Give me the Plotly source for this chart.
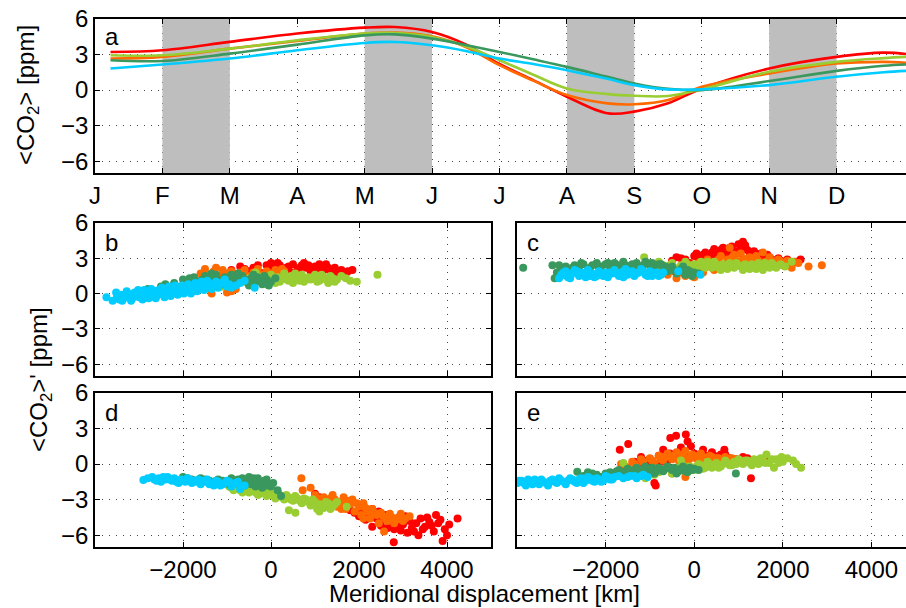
import plotly.graph_objects as go

W, H = 906, 608

# ---------------- data ----------------
month_labels = ["J", "F", "M", "A", "M", "J", "J", "A", "S", "O", "N", "D"]
month_x = [0.23, 1, 2, 3, 4, 4.45, 5, 5.5, 6, 6.5, 7, 7.6, 8, 8.5, 9, 10, 11, 11.7, 12.03]

a_red = [3.22, 3.36, 4.07, 4.77, 5.27, 5.32, 4.9, 3.85, 2.2, 0.84, -0.56, -1.96, -1.82, -1.12, 0.14, 1.82, 2.8, 3.16, 3.05]
a_orange = [2.66, 2.8, 3.5, 4.14, 4.77, 4.85, 4.54, 3.64, 2.1, 0.8, -0.42, -1.12, -1.2, -0.84, 0.28, 1.4, 2.24, 2.38, 2.3]
a_ygreen = [2.94, 2.94, 3.5, 4.2, 4.77, 4.82, 4.48, 3.7, 2.52, 1.3, 0.14, -0.34, -0.48, -0.5, 0.06, 1.54, 2.38, 2.7, 2.8]
a_dgreen = [2.52, 2.46, 3.08, 3.84, 4.62, 4.7, 4.34, 3.8, 3.22, 2.6, 1.96, 1.12, 0.56, 0.1, 0.0, 0.76, 1.62, 2.05, 2.16]
a_cyan = [1.82, 2.16, 2.66, 3.36, 3.98, 4.06, 3.78, 3.3, 2.66, 2.2, 1.68, 0.95, 0.42, 0.06, 0.06, 0.42, 1.12, 1.5, 1.62]

shaded_months = [(1, 2), (4, 5), (7, 8), (10, 11)]

# panel b (km, ppm)
b_red = [(-1100, 1.8), (-900, 2.0), (-700, 2.3), (-500, 1.9), (-400, 2.2), (-250, 1.8), (-100, 2.4), (0, 2.6), (100, 2.1),
         (200, 2.4), (300, 1.9), (400, 2.3), (500, 2.5), (600, 2.0), (700, 2.4), (800, 2.2), (900, 1.9), (1000, 2.3),
         (1100, 2.5), (1200, 2.0), (1300, 2.2), (1400, 1.7), (1500, 1.9), (1600, 2.0), (1700, 1.7), (1850, 2.0),
         (-950, 1.6), (-600, 2.1), (-300, 2.4), (-50, 2.1), (150, 2.6), (350, 2.2), (450, 1.8), (650, 2.2), (750, 2.6),
         (850, 2.4), (1050, 2.1), (1150, 2.3), (1250, 2.5), (1350, 1.9), (1450, 2.2), (1550, 1.7), (1750, 1.9)]
b_orange = [(-1500, 2.1), (-1400, 1.6), (-1300, 1.9), (-1200, 1.5), (-1100, 2.0), (-1000, 1.7), (-900, 1.9), (-800, 1.4),
            (-700, 1.8), (-600, 2.0), (-500, 1.5), (-400, 1.8), (-300, 2.1), (-200, 1.6), (-100, 1.9), (0, 1.7),
            (100, 2.0), (200, 1.6), (300, 1.9), (-1350, 0.0), (-1000, 0.1), (-800, 0.4),
            (-1600, 1.7), (-1250, 2.2), (-950, 1.4), (-650, 1.6), (-350, 1.4), (-50, 1.5), (150, 1.8), (250, 2.1),
            (-1150, 0.6), (-900, 0.2)]
b_ygreen = [(-1600, 0.5), (-1400, 0.9), (-1200, 0.7), (-1000, 1.2), (-900, 0.8), (-800, 1.4), (-600, 1.0), (-500, 1.3),
            (-400, 0.9), (-300, 1.5), (-200, 1.1), (-100, 0.8), (0, 1.6), (50, 1.2), (150, 1.4), (200, 1.0), (300, 1.7),
            (350, 1.2), (450, 1.5), (500, 0.9), (600, 1.3), (700, 1.6), (750, 1.0), (850, 1.4), (900, 1.2), (1000, 1.6),
            (1100, 1.1), (1200, 1.4), (1300, 0.9), (1400, 1.3), (1500, 1.2), (1600, 1.5), (1950, 1.0), (2420, 1.6),
            (-1500, 1.1), (-1100, 0.6), (-700, 1.2), (-350, 1.8), (-150, 1.4), (100, 0.9), (250, 1.3), (400, 1.1),
            (550, 1.7), (650, 1.1), (800, 1.2), (950, 1.4), (1050, 1.0), (1150, 1.6), (1250, 1.2), (1350, 1.5),
            (1450, 1.0), (1700, 1.3), (1800, 1.1)]
b_dgreen = [(-3000, 0.1), (-2800, 0.4), (-2600, 0.2), (-2500, 0.6), (-2300, 0.5), (-2200, 0.9), (-2100, 0.3), (-2000, 1.2),
            (-1900, 0.7), (-1800, 1.0), (-1750, 1.4), (-1700, 0.5), (-1600, 1.1), (-1500, 1.5), (-1450, 0.9), (-1400, 1.3),
            (-1300, 1.0), (-1250, 1.6), (-1200, 1.2), (-1100, 0.8), (-1050, 1.4), (-1000, 1.1), (-900, 1.6), (-850, 0.9),
            (-800, 1.3), (-700, 1.0), (-650, 1.5), (-600, 1.2), (-500, 0.7), (-450, 1.3), (-350, 1.0), (-300, 1.4),
            (-200, 0.8), (-100, 1.2), (0, 1.0),
            (-2700, 0.0), (-2400, 0.8), (-2150, 0.6), (-1950, 0.4), (-1850, 1.3), (-1650, 0.8), (-1550, 1.2),
            (-1350, 1.7), (-1150, 1.1), (-950, 1.3), (-750, 1.7), (-550, 1.0), (-400, 1.6), (-250, 1.1), (-150, 1.5),
            (-50, 0.7), (100, 1.3)]
b_cyan = [(-3740, -0.3), (-3500, -0.2), (-3450, -0.5), (-3400, -0.1), (-3350, -0.4), (-3300, -0.3), (-3250, 0.0),
          (-3200, -0.2), (-3150, -0.4), (-3100, 0.1), (-3050, -0.1), (-3000, -0.3), (-2950, 0.2), (-2900, 0.0),
          (-2850, -0.2), (-2800, 0.1), (-2750, -0.3), (-2700, 0.2), (-2650, 0.0), (-2600, -0.2), (-2550, 0.3),
          (-2500, 0.1), (-2450, -0.1), (-2400, 0.2), (-2350, 0.4), (-2300, 0.0), (-2250, 0.3), (-2200, 0.1),
          (-2150, 0.5), (-2100, 0.2), (-2050, 0.4), (-2000, 0.1), (-1950, 0.6), (-1900, 0.3), (-1850, 0.5),
          (-1800, 0.2), (-1750, 0.6), (-1700, 0.4), (-1650, 0.8), (-1600, 0.5), (-1550, 0.7), (-1500, 0.4),
          (-1450, 1.1), (-1400, 0.6), (-1300, 0.8), (-1200, 0.5), (-1130, 0.9), (-1000, 0.6), (-900, 0.5),
          (-700, 0.9), (-370, 0.5),
          (-3600, -0.6), (-3520, 0.1), (-3380, -0.6), (-3280, 0.2), (-3180, -0.6), (-3120, -0.1), (-3020, 0.3),
          (-2920, -0.5), (-2880, 0.3), (-2780, -0.4), (-2720, 0.4), (-2620, -0.4), (-2580, 0.2), (-2480, 0.5),
          (-2420, -0.3), (-2320, 0.6), (-2280, -0.2), (-2180, 0.7), (-2120, -0.1), (-2020, 0.7), (-1980, 0.0),
          (-1880, 0.8), (-1820, 0.0), (-1720, 0.9), (-1680, 0.2), (-1580, 1.0), (-1520, 0.3), (-1420, 0.9),
          (-1350, 0.4), (-1250, 1.0), (-1180, 0.7), (-1050, 1.2), (-950, 0.8), (-800, 0.7), (-600, 1.1)]

# panel c
c_red = [(-500, 2.8), (-300, 3.0), (-100, 2.6), (0, 3.2), (100, 2.9), (200, 3.3), (300, 3.0), (400, 3.5), (500, 3.2),
         (600, 3.7), (700, 3.4), (800, 3.9), (900, 3.6), (1000, 4.2), (1050, 3.8), (1100, 4.4), (1200, 3.7), (1300, 3.3),
         (1400, 3.0), (1500, 3.4), (1600, 2.9), (1700, 3.1), (1800, 2.7), (1900, 3.0), (2000, 2.6), (2100, 2.9),
         (2200, 2.6), (2400, 2.9),
         (-400, 3.1), (-200, 2.9), (50, 3.4), (150, 3.1), (250, 3.5), (350, 3.2), (450, 3.8), (550, 3.4), (650, 3.9),
         (750, 3.6), (850, 4.0), (950, 3.4), (1150, 4.1), (1250, 3.5), (1350, 3.6), (1450, 3.2), (1650, 3.3),
         (1750, 2.9), (1950, 2.8), (2300, 2.7)]
c_orange = [(-600, 1.6), (-400, 1.3), (-300, 2.0), (-200, 1.5), (-100, 2.2), (0, 1.4), (100, 2.6), (200, 1.8), (300, 2.9),
            (400, 2.2), (500, 2.7), (600, 3.2), (700, 2.5), (800, 3.9), (900, 3.3), (1000, 2.6), (1100, 3.0), (1200, 2.4),
            (1300, 2.8), (1400, 3.2), (1500, 2.3), (1550, 3.5), (1600, 2.7), (1700, 3.1), (1800, 2.5), (1900, 2.9),
            (2000, 2.4), (2100, 2.8), (2200, 2.2), (2350, 2.6), (2580, 2.3), (2880, 2.4),
            (-500, 1.9), (-250, 1.7), (50, 2.0), (250, 2.4), (450, 2.0), (550, 2.9), (650, 2.4), (750, 2.9), (850, 3.0),
            (950, 2.8), (1050, 3.4), (1150, 2.8), (1250, 3.1), (1350, 2.6), (1450, 2.8), (1650, 2.5), (1750, 2.8),
            (1950, 2.7), (2150, 2.5), (2250, 2.7)]
c_ygreen = [(-1130, 3.1), (-1000, 2.6), (-900, 2.3), (-800, 2.7), (-700, 2.4), (-600, 2.2), (-500, 2.6), (-400, 2.0),
            (-300, 2.4), (-200, 2.7), (-100, 2.2), (0, 2.5), (100, 2.0), (200, 2.4), (300, 2.7), (400, 2.2), (500, 2.5),
            (600, 2.0), (700, 2.3), (800, 2.6), (900, 2.2), (1000, 2.4), (1100, 2.0), (1200, 2.3), (1300, 2.5),
            (1400, 2.1), (1500, 2.3), (1600, 2.6), (1700, 2.2), (1800, 2.4), (1950, 2.5), (2200, 2.7),
            (-950, 2.5), (-750, 2.2), (-550, 2.4), (-350, 2.2), (-150, 2.5), (50, 2.2), (150, 2.7), (250, 2.2),
            (350, 2.4), (450, 2.7), (550, 2.2), (650, 2.5), (750, 2.1), (850, 2.4), (950, 2.6), (1050, 2.3),
            (1150, 2.5), (1250, 2.1), (1350, 2.3), (1450, 2.6), (1550, 2.0), (1650, 2.4), (1750, 2.6), (1850, 2.2),
            (2050, 2.3)]
c_dgreen = [(-3860, 2.2), (-3200, 2.4), (-3150, 1.3), (-3100, 1.8), (-3000, 2.1), (-2900, 2.3), (-2800, 1.9), (-2700, 2.4),
            (-2600, 2.2), (-2500, 2.5), (-2400, 2.0), (-2300, 2.4), (-2200, 2.6), (-2100, 2.3), (-2000, 2.5),
            (-1900, 2.2), (-1800, 2.6), (-1700, 2.4), (-1600, 2.7), (-1500, 2.3), (-1400, 2.5), (-1300, 2.6),
            (-1200, 2.2), (-1100, 2.7), (-1000, 2.4), (-900, 2.0), (-800, 2.5), (-700, 2.2), (-600, 1.9), (-500, 2.3),
            (-400, 1.7), (-300, 2.1), (-200, 1.6), (-100, 1.9), (100, 1.7),
            (-3050, 2.4), (-2950, 1.6), (-2750, 2.2), (-2550, 2.6), (-2350, 2.2), (-2150, 2.2), (-1950, 2.6),
            (-1750, 2.2), (-1550, 2.4), (-1350, 2.3), (-1150, 2.4), (-950, 2.6), (-750, 2.5), (-650, 2.3),
            (-450, 2.0), (-250, 2.3), (-150, 2.0), (0, 1.8), (-50, 1.5)]
c_cyan = [(-3000, 1.6), (-2900, 1.9), (-2850, 1.4), (-2750, 1.7), (-2700, 2.0), (-2600, 1.5), (-2550, 1.8), (-2450, 1.4),
          (-2400, 2.0), (-2300, 1.7), (-2250, 1.4), (-2150, 1.9), (-2100, 1.6), (-2000, 1.8), (-1950, 1.4), (-1850, 1.7),
          (-1800, 2.0), (-1700, 1.5), (-1650, 1.8), (-1550, 2.1), (-1500, 1.6), (-1400, 1.9), (-1350, 1.5),
          (-1250, 1.8), (-1200, 2.1), (-1100, 1.6), (-1000, 1.9), (-950, 1.5), (-850, 1.8), (-750, 1.6), (-360, 1.9),
          (140, 1.6),
          (-3050, 1.3), (-2950, 1.8), (-2800, 1.3), (-2650, 1.9), (-2500, 1.7), (-2350, 1.5), (-2200, 1.5),
          (-2050, 1.5), (-1900, 1.8), (-1750, 1.7), (-1600, 1.4), (-1450, 1.8), (-1300, 1.7), (-1150, 1.9),
          (-1050, 1.5), (-900, 1.7), (-800, 1.5), (-700, 1.8)]

# panel d
d_red = [(1000, -2.5), (1200, -3.2), (1400, -2.9), (1600, -3.5), (1800, -3.9), (2000, -4.4), (2100, -3.5), (2200, -4.2),
         (2300, -3.8), (2300, -5.3), (2400, -4.6), (2500, -5.2), (2600, -4.3), (2700, -4.9), (2790, -6.6), (2800, -5.5),
         (2900, -4.5), (3000, -5.1), (3100, -5.8), (3150, -4.8), (3200, -5.4), (3300, -5.0), (3350, -6.0), (3400, -4.6),
         (3500, -5.3), (3600, -4.9), (3700, -5.7), (3750, -4.3), (3900, -6.5), (3950, -5.5), (4050, -5.1), (4240, -4.6),
         (1100, -2.8), (1500, -3.2), (1700, -3.6), (1900, -4.1), (2050, -3.8), (2150, -4.7), (2450, -4.0),
         (2550, -4.6), (2650, -5.4), (2850, -5.2), (2950, -5.6), (3050, -4.4), (3250, -5.7), (3450, -5.5),
         (3550, -4.5), (3650, -5.2), (3800, -5.0), (3850, -4.7), (4000, -6.0)]
d_orange = [(690, -1.2), (900, -2.0), (720, -2.2), (1000, -2.6), (1200, -2.8), (1300, -3.3), (1400, -2.6), (1450, -3.0),
            (1500, -3.6), (1600, -3.2), (1650, -2.8), (1700, -3.8), (1800, -3.4), (1850, -3.0), (1900, -4.0),
            (2000, -3.6), (2050, -4.3), (2100, -3.3), (2200, -4.0), (2250, -4.6), (2300, -3.8), (2400, -4.3),
            (2450, -5.0), (2500, -4.1), (2570, -5.7), (2600, -4.6), (2700, -4.2), (2800, -5.0), (2900, -4.5),
            (3000, -4.8), (3150, -4.4),
            (1100, -2.9), (1250, -3.1), (1350, -2.9), (1550, -3.4), (1750, -3.1), (1950, -3.3), (2150, -3.7),
            (2350, -4.1), (2550, -4.4), (2650, -4.8), (2750, -4.5), (2850, -4.7), (2950, -4.2), (1600, -3.8),
            (2100, -4.6), (3050, -4.6)]
d_ygreen = [(-1000, -1.7), (-900, -2.0), (-800, -1.8), (-700, -2.2), (-600, -2.0), (-500, -2.4), (-400, -2.2),
            (-300, -2.6), (-200, -2.3), (-100, -2.7), (0, -2.5), (100, -2.9), (200, -2.6), (300, -3.0), (400, -2.8),
            (408, -3.9), (500, -3.1), (555, -4.1), (600, -2.9), (700, -3.3), (800, -3.0), (900, -3.5), (1000, -3.2),
            (1050, -3.8), (1100, -3.4), (1100, -4.0), (1200, -3.7), (1300, -3.3), (1400, -3.6), (1500, -3.2),
            (1720, -3.6),
            (-950, -1.9), (-850, -2.2), (-750, -1.9), (-650, -2.4), (-550, -2.2), (-450, -2.0), (-350, -2.4),
            (-250, -2.5), (-150, -2.1), (-50, -2.4), (50, -2.7), (150, -2.4), (250, -2.8), (350, -2.6), (450, -3.0),
            (550, -2.7), (650, -3.1), (750, -2.9), (850, -3.2), (950, -3.0), (1150, -3.6), (1250, -3.2),
            (1350, -3.8), (1450, -3.4)]
d_dgreen = [(-2000, -1.1), (-1800, -1.3), (-1600, -1.2), (-1400, -1.4), (-1200, -1.3), (-1000, -1.5), (-900, -1.2),
            (-800, -1.6), (-700, -1.4), (-650, -1.2), (-600, -1.8), (-550, -1.5), (-500, -1.1), (-450, -1.7),
            (-400, -1.4), (-350, -1.9), (-300, -1.2), (-250, -1.6), (-200, -2.0), (-150, -1.4), (-100, -1.8),
            (50, -1.6), (150, -2.2), (230, -2.7),
            (-1900, -1.2), (-1700, -1.4), (-1500, -1.3), (-1300, -1.5), (-1100, -1.4), (-950, -1.7), (-750, -1.3),
            (-600, -1.4), (-500, -1.6), (-400, -1.2), (-300, -1.7), (-200, -1.5), (-100, -1.3), (0, -1.9)]
d_cyan = [(-2900, -1.35), (-2700, -1.1), (-2650, -1.3), (-2550, -1.2), (-2500, -1.5), (-2400, -1.3), (-2350, -1.1),
          (-2250, -1.4), (-2200, -1.2), (-2100, -1.6), (-2050, -1.3), (-1950, -1.5), (-1900, -1.2), (-1800, -1.6),
          (-1750, -1.4), (-1650, -1.3), (-1600, -1.7), (-1500, -1.5), (-1450, -1.3), (-1350, -1.6), (-1300, -1.8),
          (-1200, -1.5), (-1100, -1.7), (-1000, -1.4), (-900, -1.9), (-800, -1.6), (-700, -2.1), (-600, -1.8),
          (-2800, -1.2), (-2600, -1.4), (-2450, -1.1), (-2300, -1.3), (-2150, -1.5), (-2000, -1.4), (-1850, -1.3),
          (-1700, -1.5), (-1550, -1.4), (-1400, -1.7), (-1250, -1.4), (-1150, -1.8), (-1050, -1.6), (-950, -1.5),
          (-850, -1.7), (-750, -1.5)]

# panel e
e_red = [(-1680, 1.2), (-1490, 1.7), (-1350, 0.2), (-1200, 0.6), (-1100, -0.1), (-1000, 0.4), (-900, -1.6), (-870, -1.8),
         (-800, 0.7), (-700, 1.2), (-600, 0.3), (-540, 2.2), (-450, 0.8), (-410, 2.4), (-300, 1.4), (-200, 0.6),
         (-190, 2.5), (-150, 1.9), (-75, 1.5), (0, 0.9), (100, 0.4), (200, 1.2), (300, 0.7), (400, 1.0), (500, 0.3),
         (600, 0.8), (680, 1.2), (800, 0.5), (900, 0.1), (1100, 0.6), (1280, -1.2), (1600, 0.4),
         (-1250, 0.1), (-1050, 0.3), (-950, -0.2), (-750, 0.2), (-650, 0.5), (-550, 0.9), (-350, 0.4), (-250, 1.0),
         (-120, 0.4), (50, 0.5), (150, 0.8), (250, 0.3), (350, 0.5), (450, 0.7), (550, 0.4), (700, 0.8), (950, 0.4),
         (1200, 0.5)]
e_orange = [(-1650, 0.0), (-1500, -0.4), (-1400, 0.2), (-1300, -0.2), (-1200, 0.4), (-1100, -0.3), (-1000, 0.5),
            (-900, 0.1), (-800, 0.7), (-700, 0.3), (-600, 0.9), (-500, 0.4), (-400, 1.0), (-300, 0.6), (-200, 1.1),
            (-150, 0.3), (-50, 0.8), (50, 0.5), (150, 0.9), (250, 0.3), (350, 0.7), (450, 0.2), (550, 0.5), (650, 0.1),
            (750, 0.4), (900, 0.2), (1050, 0.3), (-900, -0.6), (-500, -0.8), (-200, -1.1),
            (-1550, -0.2), (-1350, 0.0), (-1150, 0.2), (-950, 0.3), (-750, 0.4), (-650, 0.6), (-450, 0.7),
            (-350, 0.3), (-250, 0.8), (-100, 0.5), (0, 0.7), (100, 0.2), (200, 0.6), (300, 0.4), (400, 0.6),
            (500, 0.5), (600, 0.3), (700, 0.6), (850, 0.5)]
e_ygreen = [(-1600, 0.1), (-1300, -0.9), (-1100, -1.2), (-900, -0.9), (-700, -0.5), (-500, -0.8), (-400, -0.3),
            (-300, 0.3), (-200, -0.6), (-100, -0.2), (0, -0.5), (100, 0.0), (200, -0.4), (300, 0.2), (400, -0.3),
            (500, 0.1), (600, -0.2), (700, 0.3), (800, -0.1), (900, 0.2), (1000, 0.4), (1100, 0.0), (1200, 0.3),
            (1300, -0.1), (1400, 0.2), (1500, 0.5), (1630, 0.8), (1700, 0.1), (1800, -0.3), (1850, 0.4), (1970, 0.6),
            (2000, 0.2), (2230, 0.3), (2410, -0.3),
            (-1000, -0.5), (-800, -0.7), (-600, -0.3), (-350, -0.5), (-250, -0.1), (-50, -0.3), (50, -0.2),
            (150, -0.1), (250, -0.3), (350, 0.0), (450, -0.1), (550, -0.3), (650, 0.0), (750, 0.1), (850, -0.1),
            (950, 0.0), (1050, 0.2), (1150, 0.3), (1250, 0.1), (1350, 0.4), (1450, 0.0), (1550, 0.3), (1600, 0.1),
            (1750, 0.4), (1900, 0.1), (2100, 0.5), (2300, 0.0)]
e_dgreen = [(-2640, -0.65), (-2500, -1.0), (-2300, -0.8), (-2100, -1.1), (-1900, -0.7), (-1800, -0.9), (-1700, -0.5),
            (-1600, -0.8), (-1500, -0.4), (-1400, -0.7), (-1300, -0.3), (-1200, -0.6), (-1100, -0.2), (-1000, -0.5),
            (-900, -0.8), (-800, -0.3), (-700, -0.6), (-600, -0.2), (-500, -0.5), (-400, -0.8), (-300, -0.4),
            (-200, -0.6), (-100, -0.3), (100, -0.5), (940, -0.8),
            (-2400, -0.7), (-2200, -0.9), (-2000, -0.8), (-1750, -0.6), (-1550, -0.6), (-1350, -0.5), (-1150, -0.4),
            (-950, -0.3), (-850, -0.6), (-650, -0.4), (-450, -0.3), (-350, -0.6), (-250, -0.2), (-50, -0.5),
            (-150, -0.7), (0, -0.4)]
e_cyan = [(-3990, -1.6), (-3900, -1.4), (-3800, -1.8), (-3700, -1.5), (-3600, -1.3), (-3500, -1.7), (-3400, -1.5),
          (-3300, -1.8), (-3200, -1.3), (-3100, -1.6), (-3000, -1.4), (-2900, -1.7), (-2800, -1.2), (-2700, -1.5),
          (-2600, -1.3), (-2500, -1.6), (-2400, -1.1), (-2300, -1.4), (-2200, -1.2), (-2100, -1.5), (-2000, -1.0),
          (-1900, -1.3), (-1800, -1.1), (-1600, -1.2), (-1450, -1.0), (-1300, -1.2), (-1150, -0.9), (-1050, -1.1),
          (-3950, -1.4), (-3850, -1.6), (-3750, -1.3), (-3650, -1.7), (-3550, -1.5), (-3450, -1.3), (-3350, -1.6),
          (-3250, -1.4), (-3150, -1.5), (-3050, -1.2), (-2950, -1.5), (-2850, -1.4), (-2750, -1.3), (-2650, -1.6),
          (-2550, -1.2), (-2450, -1.4), (-2350, -1.2), (-2250, -1.5), (-2150, -1.3), (-2050, -1.4), (-1950, -1.1),
          (-1850, -1.3), (-1700, -1.0), (-1500, -1.1), (-1350, -1.0), (-1200, -1.0)]

y_ticks = [-6, -3, 0, 3, 6]
x_ticks_km = [-2000, 0, 2000, 4000]

# ---------------- styling ----------------
RED, ORANGE, YGREEN, DGREEN, CYAN = "#FF0000", "#FF6A00", "#9ACD32", "#3A985E", "#00CCFF"
FONT = "Liberation Sans, Arial, Helvetica, sans-serif"
FS = 24


def px_x(p):
    return p / W


def px_y(p):
    return 1 - p / H


fig = go.Figure()

# gray month bands in panel a (drawn as filled traces so they cover the grid)
for m0, m1 in shaded_months:
    fig.add_trace(go.Scatter(x=[m0, m1, m1, m0, m0], y=[-7, -7, 6, 6, -7], mode="lines", fill="toself",
                             fillcolor="#BEBEBE", line=dict(width=0, color="#BEBEBE"),
                             xaxis="x", yaxis="y", hoverinfo="skip"))

# panel a lines
for vals, col in [(a_red, RED), (a_orange, ORANGE), (a_ygreen, YGREEN), (a_dgreen, DGREEN), (a_cyan, CYAN)]:
    fig.add_trace(go.Scatter(x=month_x, y=vals, mode="lines", xaxis="x", yaxis="y",
                             line=dict(color=col, width=2.6, shape="spline", smoothing=1.0),
                             hoverinfo="skip"))

panels = [
    ("x2", "y2", [b_red, b_orange, b_ygreen, b_dgreen, b_cyan]),
    ("x3", "y3", [c_red, c_orange, c_ygreen, c_dgreen, c_cyan]),
    ("x4", "y4", [d_red, d_orange, d_ygreen, d_dgreen, d_cyan]),
    ("x5", "y5", [e_red, e_orange, e_ygreen, e_dgreen, e_cyan]),
]
for xa, ya, series in panels:
    for pts, col in zip(series, [RED, ORANGE, YGREEN, DGREEN, CYAN]):
        fig.add_trace(go.Scatter(x=[p[0] for p in pts], y=[p[1] for p in pts], mode="markers",
                                 xaxis=xa, yaxis=ya,
                                 marker=dict(color=col, size=8, line=dict(width=0)),
                                 hoverinfo="skip"))

grid = dict(showgrid=True, gridcolor="#444444", gridwidth=1, griddash="1px,6px")
base_ax = dict(showline=True, linecolor="black", linewidth=1.5, ticks="inside", ticklen=5,
               tickcolor="black", tickwidth=1, zeroline=False, tickfont=dict(size=FS, color="black"),
               layer="above traces", **grid)

xa_dom_left = [px_x(95), px_x(491)]
xa_dom_right = [px_x(517), 1.0]
ya_top = [px_y(173), px_y(19)]
ya_mid = [px_y(376), px_y(223)]
ya_bot = [px_y(547), px_y(393)]

layout = dict(
    width=W, height=H, margin=dict(l=0, r=0, t=0, b=0, pad=0, autoexpand=False),
    paper_bgcolor="white", plot_bgcolor="white", showlegend=False,
    font=dict(family=FONT, size=FS, color="black"),
    xaxis=dict(domain=[px_x(95), 1.0], anchor="y", range=[0, 12.03],
               tickvals=list(range(12)), ticktext=month_labels, mirror="ticks", **base_ax),
    yaxis=dict(domain=ya_top, anchor="x", range=[-7, 6], tickvals=y_ticks, mirror=False, **base_ax),
    xaxis2=dict(domain=xa_dom_left, anchor="y2", range=[-4000, 5000], tickvals=x_ticks_km,
                showticklabels=False, mirror="ticks", **base_ax),
    yaxis2=dict(domain=ya_mid, anchor="x2", range=[-7, 6], tickvals=y_ticks, mirror="ticks", **base_ax),
    xaxis3=dict(domain=xa_dom_right, anchor="y3", range=[-4000, 4780], tickvals=x_ticks_km,
                showticklabels=False, mirror="ticks", **base_ax),
    yaxis3=dict(domain=ya_mid, anchor="x3", range=[-7, 6], tickvals=y_ticks, showticklabels=False,
                mirror=False, **base_ax),
    xaxis4=dict(domain=xa_dom_left, anchor="y4", range=[-4000, 5000], tickvals=x_ticks_km,
                mirror="ticks", **base_ax),
    yaxis4=dict(domain=ya_bot, anchor="x4", range=[-7, 6], tickvals=y_ticks, mirror="ticks", **base_ax),
    xaxis5=dict(domain=xa_dom_right, anchor="y5", range=[-4000, 4780], tickvals=x_ticks_km,
                mirror="ticks", **base_ax),
    yaxis5=dict(domain=ya_bot, anchor="x5", range=[-7, 6], tickvals=y_ticks, showticklabels=False,
                mirror=False, **base_ax),
)
fig.update_layout(**layout)

# panel letters
for letter, px, py in [("a", 112, 37), ("b", 111, 242), ("c", 533, 242), ("d", 111, 412), ("e", 533, 412)]:
    fig.add_annotation(text=letter, x=px_x(px), y=px_y(py), xref="paper", yref="paper",
                       showarrow=False, xanchor="center", yanchor="middle", font=dict(size=FS))

# axis titles
fig.add_annotation(text="&lt;CO<sub>2</sub>&gt; [ppm]", x=px_x(27), y=px_y(95), xref="paper", yref="paper",
                   showarrow=False, textangle=-90, xanchor="center", yanchor="middle", font=dict(size=FS))
fig.add_annotation(text="&lt;CO<sub>2</sub>&gt;' [ppm]", x=px_x(40), y=px_y(380), xref="paper", yref="paper",
                   showarrow=False, textangle=-90, xanchor="center", yanchor="middle", font=dict(size=FS))
fig.add_annotation(text="Meridional displacement [km]", x=px_x(485), y=px_y(593), xref="paper", yref="paper",
                   showarrow=False, xanchor="center", yanchor="middle", font=dict(size=FS))

fig.write_html("out.html", config={"displayModeBar": False},
               post_script="document.body.style.margin='0px';document.body.style.overflow='hidden';")
